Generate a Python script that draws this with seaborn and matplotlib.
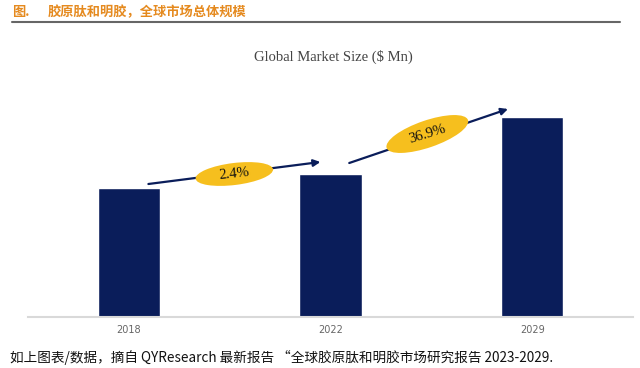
import matplotlib
matplotlib.use("Agg")
import matplotlib.pyplot as plt
import seaborn as sns
from matplotlib.patches import Ellipse
from matplotlib.lines import Line2D
from matplotlib.transforms import ScaledTranslation

# Data (relative market size)
years = ["2018", "2022", "2029"]
market_size = [129, 143, 200]
growth_labels = ["2.4%", "36.9%"]

header = "胶原肽和明胶，全球市场总体规模"
chart_title = "Global Market Size ($ Mn)"
footer = "如上图表/数据，摘自 QYResearch 最新报告 “全球胶原肽和明胶市场研究报告 2023-2029."

navy = "#0a1d5a"
gold = "#f6bf1e"
orange = "#e58a1f"

sns.set_theme(style="white")
plt.rcParams["font.family"] = ["Noto Sans CJK SC", "DejaVu Sans"]

fig = plt.figure(figsize=(6.4, 3.68), dpi=100)
fig.patch.set_facecolor("white")
ax = fig.add_axes([28 / 640, 51 / 368, 605 / 640, 250 / 368])

sns.barplot(x=years, y=market_size, color=navy, saturation=1, width=0.31, ax=ax)
ax.set_ylim(0, 250)
ax.set_xlim(-0.5, 2.5)
ax.set_yticks([])
ax.set_xlabel("")
ax.set_ylabel("")
for s in ["left", "right", "top"]:
    ax.spines[s].set_visible(False)
ax.spines["bottom"].set_color("#d9d9d9")
ax.spines["bottom"].set_linewidth(1.5)
ax.tick_params(axis="x", length=0, pad=6, labelsize=7, labelcolor="#666666")
for lbl in ax.get_xticklabels():
    lbl.set_family("DejaVu Sans")

# growth arrows with gold ellipse labels
arrows = [((0.097, 133), (0.95, 155)), ((1.093, 154), (1.88, 208))]
bubbles = [((0.523, 143), 0.78, 0.22, 7, 6), ((1.48, 183), 0.86, 0.27, 19, 17)]
for (start, end), (center, w, h, ang, rot), txt in zip(arrows, bubbles, growth_labels):
    ax.annotate("", xy=end, xytext=start,
                arrowprops=dict(arrowstyle="-|>", color=navy, lw=1.6,
                                mutation_scale=10, shrinkA=0, shrinkB=0))
    tr = fig.dpi_scale_trans + ScaledTranslation(center[0], center[1], ax.transData)
    ax.add_patch(Ellipse((0, 0), w, h, angle=ang, transform=tr,
                         facecolor=gold, edgecolor="none", zorder=5))
    ax.text(center[0], center[1], txt, ha="center", va="center", rotation=rot,
            fontsize=10.5, family="Liberation Serif", color="#111111", zorder=6,
            rotation_mode="anchor")

# header, chart title, footer
fig.text(12 / 640, 1 - 12 / 368, "图.", color=orange, fontsize=9.5,
         fontweight="bold", va="center", ha="left")
fig.text(48 / 640, 1 - 12 / 368, header, color=orange, fontsize=9.5,
         fontweight="bold", va="center", ha="left")
fig.add_artist(Line2D([12 / 640, 620 / 640], [1 - 22 / 368, 1 - 22 / 368],
                      color="#666666", lw=1.5))
fig.text(333 / 640, 1 - 57 / 368, chart_title, ha="center", va="center",
         fontsize=10.5, family="Liberation Serif", color="#444444")
fig.text(10 / 640, 1 - 357 / 368, footer, ha="left", va="center",
         fontsize=9.8, color="#111111")

fig.savefig("out.png", dpi=100, facecolor="white")
